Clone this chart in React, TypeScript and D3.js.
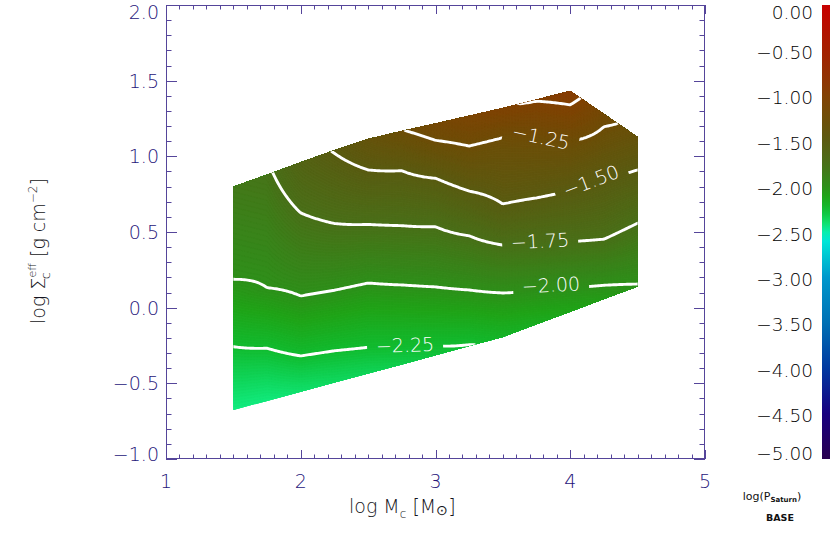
import React, { useMemo } from "react";
import * as d3 from "d3";

// ---------------- data ----------------
const X_COLUMNS = [1.5, 1.75, 2.0, 2.25, 2.5, 2.75, 3.0, 3.25, 3.5, 3.75, 4.0, 4.25, 4.5];
const TOP_EDGE_Y = [0.799, 0.879, 0.961, 1.041, 1.115, 1.167, 1.217, 1.268, 1.319, 1.376, 1.432, 1.279, 1.128];
const BOTTOM_EDGE_Y = [-0.676, -0.616, -0.556, -0.495, -0.435, -0.375, -0.315, -0.254, -0.194, -0.11, -0.027, 0.057, 0.14];
const TOP_EDGE_VALUE = [-1.82, -1.78, -1.6, -1.49, -1.36, -1.26, -1.15, -1.07, -1.02, -0.975, -0.92, -1.18, -1.35];
const BOTTOM_EDGE_VALUE = [-2.45, -2.44, -2.4, -2.37, -2.35, -2.32, -2.28, -2.26, -2.2, -2.16, -2.11, -2.06, -2.01];

const CONTOUR_LEVELS = [-2.25, -2.0, -1.75, -1.5, -1.25, -1.0];
// y position (log Sigma) where each level crosses each column (null = no crossing)
const CROSS_M225 = [-0.258, -0.268, -0.319, -0.285, -0.262, -0.257, -0.252, -0.245, null, null, null, null, null];
const CROSS_M200 = [0.187, 0.132, 0.077, 0.115, 0.163, 0.15, 0.137, 0.117, 0.097, 0.115, 0.135, 0.148, 0.156];
const CROSS_M175 = [null, null, 0.626, 0.556, 0.55, 0.542, 0.535, 0.475, 0.414, 0.42, 0.435, 0.452, 0.559];
const CROSS_M150 = [null, null, null, 1.02, 0.91, 0.905, 0.855, 0.77, 0.685, 0.725, 0.77, 0.84, 0.91];
const CROSS_M125 = [null, null, null, null, null, null, 1.106, 1.068, 1.124, 1.11, 1.1, 1.196, null];
const CROSS_M100 = [null, null, null, null, null, null, null, null, null, 1.365, 1.34, null, null];
const CROSSINGS = [CROSS_M225, CROSS_M200, CROSS_M175, CROSS_M150, CROSS_M125, CROSS_M100];

const LABEL_LEVELS = [-1.25, -1.5, -1.75, -2.0, -2.25];
const LABEL_X = [3.783, 4.154, 3.776, 3.857, 2.774];
const LABEL_Y = [1.128, 0.837, 0.44, 0.15, -0.247];
const LABEL_ANGLE = [12, -21, -3, -3, -2];

const X_TICKS = [1, 2, 3, 4, 5];
const Y_TICKS = [-1.0, -0.5, 0.0, 0.5, 1.0, 1.5, 2.0];
const CB_TICKS = [0, -0.5, -1, -1.5, -2, -2.5, -3, -3.5, -4, -4.5, -5];

const CMAP_VALUES = [0, -0.5, -0.9, -1.0, -1.25, -1.5, -1.75, -2.0, -2.1, -2.25, -2.35, -2.45, -2.55, -3.0, -3.5, -4.0, -4.5, -5.0];
const CMAP_COLORS = ["#c80000", "#a42000", "#8a3a04", "#824204", "#6e4e08", "#5a5c12", "#4a7019", "#2e901a", "#20a418", "#12bc30", "#10d458", "#12ec80", "#00f0d8", "#0098cc", "#0070b4", "#0038a0", "#180080", "#2a0050"];

// ---------------- layout ----------------
const W = 830, H = 554;
const xScale = d3.scaleLinear().domain([1, 5]).range([166, 705]);
const yScale = d3.scaleLinear().domain([-1, 2]).range([459, 5]);
const cbScale = d3.scaleLinear().domain([-5, 0]).range([459, 5]);
const color = d3.scaleLinear<string>().domain(CMAP_VALUES).range(CMAP_COLORS).interpolate(d3.interpolateRgb).clamp(true);

const AXIS = "#55459a";
const TICKTXT = "#26167a";
const TITLETXT = "#141420";
const FONT = "'DejaVu Sans', sans-serif";
const FW = 200;

function columnKnots(i: number) {
  const knots: { t: number; v: number }[] = [];
  const b = BOTTOM_EDGE_Y[i], tp = TOP_EDGE_Y[i];
  const toT = (y: number) => (y - b) / (tp - b);
  knots.push({ t: 0, v: BOTTOM_EDGE_VALUE[i] });
  CONTOUR_LEVELS.forEach((lv, k) => {
    const y = CROSSINGS[k][i];
    if (y !== null && y !== undefined) knots.push({ t: toT(y as number), v: lv });
  });
  knots.push({ t: 1, v: TOP_EDGE_VALUE[i] });
  knots.sort((a, c) => a.t - c.t);
  return knots;
}
const KNOTS = X_COLUMNS.map((_, i) => columnKnots(i));

function colVal(i: number, t: number) {
  const k = KNOTS[i];
  if (t <= k[0].t) return k[0].v;
  for (let j = 1; j < k.length; j++) {
    if (t <= k[j].t) {
      const a = k[j - 1], c = k[j];
      return a.v + ((t - a.t) / (c.t - a.t || 1)) * (c.v - a.v);
    }
  }
  return k[k.length - 1].v;
}

function valueAt(X: number, Y: number) {
  const n = X_COLUMNS.length;
  const xc = Math.max(X_COLUMNS[0], Math.min(X_COLUMNS[n - 1], X));
  let i = d3.bisectRight(X_COLUMNS, xc) - 1;
  if (i >= n - 1) i = n - 2;
  if (i < 0) i = 0;
  const f = (xc - X_COLUMNS[i]) / (X_COLUMNS[i + 1] - X_COLUMNS[i]);
  const b = BOTTOM_EDGE_Y[i] + f * (BOTTOM_EDGE_Y[i + 1] - BOTTOM_EDGE_Y[i]);
  const tp = TOP_EDGE_Y[i] + f * (TOP_EDGE_Y[i + 1] - TOP_EDGE_Y[i]);
  let t = (Y - b) / (tp - b);
  t = Math.max(0, Math.min(1, t));
  return (1 - f) * colVal(i, t) + f * colVal(i + 1, t);
}

export default function App() {
  const computed = useMemo(() => {
    const step = 1.5;
    const x0 = xScale(X_COLUMNS[0]) - 10;
    const x1 = xScale(X_COLUMNS[X_COLUMNS.length - 1]) + 10;
    const y0 = yScale(d3.max(TOP_EDGE_Y) as number) - 10;
    const y1 = yScale(d3.min(BOTTOM_EDGE_Y) as number) + 10;
    const nx = Math.ceil((x1 - x0) / step) + 1;
    const ny = Math.ceil((y1 - y0) / step) + 1;
    const values = new Array(nx * ny);
    for (let j = 0; j < ny; j++) {
      for (let i = 0; i < nx; i++) {
        values[j * nx + i] = valueAt(xScale.invert(x0 + i * step), yScale.invert(y0 + j * step));
      }
    }
    const proj = d3.geoTransform({
      point(x: number, y: number) {
        (this as any).stream.point(x0 + (x - 0.5) * step, y0 + (y - 0.5) * step);
      },
    });
    const path = d3.geoPath(proj);
    const vmin = d3.min(values) as number;
    const vmax = d3.max(values) as number;
    const fillTh = d3.range(Math.floor(vmin * 100) / 100, vmax + 0.01, 0.01);
    const gen = d3.contours().size([nx, ny]);
    const bands = gen.thresholds(fillTh)(values).map((c) => ({ d: path(c as any) || "", fill: color(c.value + 0.005), v: c.value }));
    const lines = gen.thresholds(CONTOUR_LEVELS)(values).map((c) => ({ d: path(c as any) || "", v: c.value }));
    return { bands, lines, base: color(vmin), x0, y0, x1, y1 };
  }, []);

  const clipPts = [
    ...X_COLUMNS.map((x, i) => [xScale(x), yScale(TOP_EDGE_Y[i])]),
    ...X_COLUMNS.map((x, i) => [xScale(x), yScale(BOTTOM_EDGE_Y[i])]).reverse(),
  ];
  const clipD = "M" + clipPts.map((p) => p.join(",")).join("L") + "Z";

  const xMinor = d3.range(1, 5.0001, 0.1);
  const yMinor = d3.range(-1, 2.0001, 0.1);
  const fmtY = d3.format(".1f");
  const fmtCb = d3.format(".2f");
  const fmtLbl = d3.format(".2f");

  const L = xScale(1), R = xScale(5), T = yScale(2), B = yScale(-1);
  const majX = 9, minX = 4.5, majY = 11, minY = 5.5;

  const gradStops = d3.range(0, 1.0001, 0.02).map((p) => ({ off: p, c: color(-5 + 5 * (1 - p)) }));

  return (
    <svg width={W} height={H} style={{ position: "absolute", left: 0, top: 0, background: "#fff" }} fontFamily={FONT} fontWeight={FW}>
      <defs>
        <clipPath id="dom">
          <path d={clipD} />
        </clipPath>
        <mask id="lblmask" maskUnits="userSpaceOnUse" x={0} y={0} width={W} height={H}>
          <rect x={0} y={0} width={W} height={H} fill="#fff" />
          {LABEL_LEVELS.map((lv, k) => (
            <rect key={k} x={-38} y={-12} width={76} height={24} fill="#000"
              transform={`translate(${xScale(LABEL_X[k])},${yScale(LABEL_Y[k])}) rotate(${LABEL_ANGLE[k]})`} />
          ))}
        </mask>
        <linearGradient id="cbgrad" x1="0" y1="0" x2="0" y2="1">
          {gradStops.map((s, i) => (
            <stop key={i} offset={s.off} stopColor={s.c} />
          ))}
        </linearGradient>
      </defs>
      <rect x={0} y={0} width={W} height={H} fill="#fff" />

      {/* surface */}
      <g clipPath="url(#dom)">
        <rect x={computed.x0} y={computed.y0} width={computed.x1 - computed.x0} height={computed.y1 - computed.y0} fill={computed.base} />
        {computed.bands.map((b, i) => (
          <path key={i} d={b.d} fill={b.fill} stroke={b.fill} strokeWidth={0.3} />
        ))}
        <g mask="url(#lblmask)">
          {computed.lines.map((l, i) => (
            <path key={i} d={l.d} fill="none" stroke="#fff" strokeWidth={2.9} strokeLinejoin="round" />
          ))}
        </g>
      </g>
      {LABEL_LEVELS.map((lv, k) => (
        <text key={k} fill="#fff" fontSize={19} textAnchor="middle" dy="0.36em"
          transform={`translate(${xScale(LABEL_X[k])},${yScale(LABEL_Y[k])}) rotate(${LABEL_ANGLE[k]})`}>
          {fmtLbl(lv)}
        </text>
      ))}

      {/* frame and ticks */}
      <g stroke={AXIS} strokeWidth={1} fill="none">
        <rect x={L + 0.5} y={T + 0.5} width={R - L - 1} height={B - T - 1} />
        {xMinor.map((v, i) => {
          const isMaj = Math.abs(v - Math.round(v)) < 1e-6;
          const len = isMaj ? majX : minX;
          const x = Math.round(xScale(v)) + 0.5;
          return (
            <g key={"x" + i}>
              <line x1={x} x2={x} y1={B} y2={B - len} />
              <line x1={x} x2={x} y1={T} y2={T + len} />
            </g>
          );
        })}
        {yMinor.map((v, i) => {
          const isMaj = Math.abs(v * 2 - Math.round(v * 2)) < 1e-6;
          const len = isMaj ? majY : minY;
          const y = Math.round(yScale(v)) + 0.5;
          return (
            <g key={"y" + i}>
              <line x1={L} x2={L + len} y1={y} y2={y} />
              <line x1={R} x2={R - len} y1={y} y2={y} />
            </g>
          );
        })}
      </g>
      {X_TICKS.map((v) => (
        <text key={"xl" + v} x={xScale(v)} y={488} fontSize={19} fill={TICKTXT} textAnchor="middle">
          {v}
        </text>
      ))}
      {Y_TICKS.map((v, i) => {
        let y = yScale(v);
        if (i === Y_TICKS.length - 1) y = 12;
        if (i === 0) y = 454;
        return (
          <text key={"yl" + v} x={159} y={y} dy="0.36em" fontSize={19} fill={TICKTXT} textAnchor="end">
            {fmtY(v)}
          </text>
        );
      })}

      {/* axis titles */}
      <text x={349} y={513} fontSize={19} fill={TITLETXT}>
        log M
        <tspan fontSize={12} dy={5}>c</tspan>
        <tspan dy={-5}>{"  ["}M</tspan>
        <tspan fontSize={14} dy={2}>⊙</tspan>
        <tspan dy={-2}>]</tspan>
      </text>
      <g transform="translate(45,251) rotate(-90)">
        <text x={0} y={0} fontSize={19} fill={TITLETXT} textAnchor="middle">
          log Σ
          <tspan fontSize={11} dy={-9}>eff</tspan>
          <tspan fontSize={13} dx={-16} dy={14}>c</tspan>
          <tspan dy={-5} dx={9}>{"  [g cm"}</tspan>
          <tspan fontSize={12} dy={-8}>−2</tspan>
          <tspan dy={8}>]</tspan>
        </text>
      </g>

      {/* colour bar */}
      <rect x={822} y={cbScale(0)} width={12} height={cbScale(-5) - cbScale(0)} fill="url(#cbgrad)" />
      {CB_TICKS.map((v, i) => {
        let y = cbScale(v) + 2;
        if (i === 0) y = 12;
        if (i === CB_TICKS.length - 1) y = 453;
        return (
          <text key={"cb" + i} x={813} y={y} dy="0.36em" fontSize={18.5} fill="#000" textAnchor="end">
            {fmtCb(v)}
          </text>
        );
      })}
      <text x={772} y={500} fontSize={11} fill="#111" textAnchor="middle" fontWeight="normal">
        log(P<tspan fontSize={7} fontWeight="bold" dy={2}>Saturn</tspan><tspan dy={-2}>)</tspan>
      </text>
      <text x={780} y={521} fontSize={9.5} fontWeight="bold" fill="#111" textAnchor="middle">
        BASE
      </text>
    </svg>
  );
}
